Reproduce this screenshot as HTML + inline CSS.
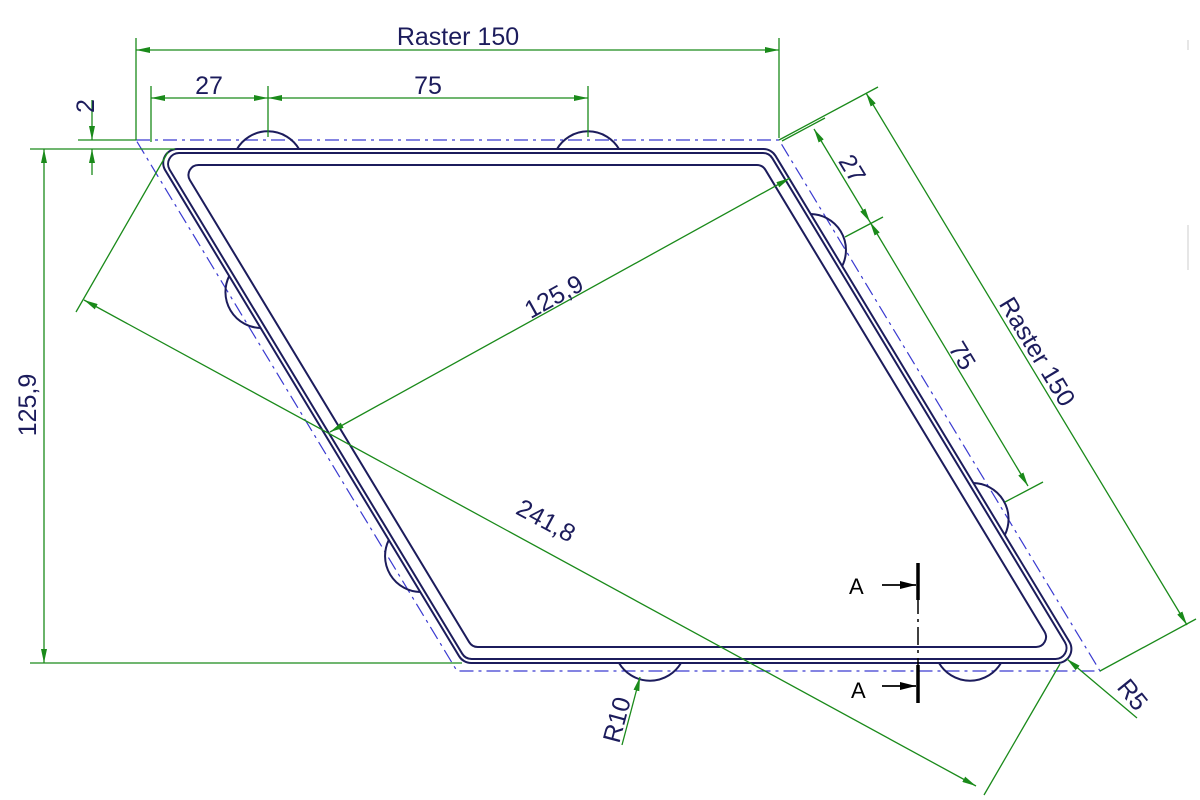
<!DOCTYPE html>
<html><head><meta charset="utf-8">
<style>
html,body{margin:0;padding:0;background:#fff;}
svg{display:block;}
text{font-family:"Liberation Sans",sans-serif;fill:#1c1c5c;font-size:25px;}
</style></head>
<body>
<svg id="s" width="1200" height="800" viewBox="0 0 1200 800" xmlns="http://www.w3.org/2000/svg">
<defs>
<marker id="a" viewBox="0 0 14 6" refX="14" refY="3" markerWidth="14" markerHeight="6" markerUnits="userSpaceOnUse" orient="auto-start-reverse">
<path d="M0,0 L14,3 L0,6 z" fill="#1a8a1a"/></marker>
<marker id="b" viewBox="0 0 16 8" refX="16" refY="4" markerWidth="16" markerHeight="8" markerUnits="userSpaceOnUse" orient="auto">
<path d="M0,0 L16,4 L0,8 z" fill="#000"/></marker>
</defs>
<g id="dash" fill="none" stroke="#3a3ad0" stroke-width="1.2" stroke-dasharray="14,5,3,5">
<polygon points="136,140 779,140 1100,671 457,671"/>
</g>
<g id="shape" fill="none" stroke="#1c1c5c" stroke-width="2"></g>
<g fill="none" stroke="#1a8a1a" stroke-width="1.3">
<line x1="136" y1="38" x2="136" y2="140"/>
<line x1="779" y1="38" x2="779" y2="138"/>
<line x1="136" y1="50" x2="779" y2="50" marker-start="url(#a)" marker-end="url(#a)"/>
<line x1="151" y1="86" x2="151" y2="142"/>
<line x1="268" y1="86" x2="268" y2="137"/>
<line x1="588" y1="86" x2="588" y2="137"/>
<line x1="151" y1="98" x2="268" y2="98" marker-start="url(#a)" marker-end="url(#a)"/>
<line x1="268" y1="98" x2="588" y2="98" marker-start="url(#a)" marker-end="url(#a)"/>
<line x1="78" y1="140" x2="136" y2="140"/>
<line x1="30" y1="149" x2="175" y2="149"/>
<line x1="92" y1="100" x2="92" y2="140" marker-end="url(#a)"/>
<line x1="92" y1="175" x2="92" y2="149" marker-end="url(#a)"/>
<line x1="30" y1="663" x2="462" y2="663"/>
<line x1="44" y1="149" x2="44" y2="663" marker-start="url(#a)" marker-end="url(#a)"/>
<line x1="330" y1="432" x2="790" y2="178" marker-start="url(#a)" marker-end="url(#a)"/>
<line x1="76" y1="312" x2="168" y2="152"/>
<line x1="84" y1="300" x2="976" y2="786" marker-start="url(#a)" marker-end="url(#a)"/>
<line x1="1060" y1="664" x2="984" y2="795"/>
<line x1="779" y1="140" x2="878" y2="87"/>
<line x1="1100" y1="671" x2="1196" y2="619"/>
<line x1="866" y1="93" x2="1187" y2="625" marker-start="url(#a)" marker-end="url(#a)"/>
<line x1="782" y1="141" x2="825" y2="118"/>
<line x1="845" y1="237" x2="883" y2="217"/>
<line x1="1005" y1="502" x2="1043" y2="482"/>
<line x1="814" y1="129" x2="870" y2="222" marker-start="url(#a)" marker-end="url(#a)"/>
<line x1="870" y1="222" x2="1028" y2="486" marker-start="url(#a)" marker-end="url(#a)"/>
<line x1="622" y1="745" x2="640" y2="677" marker-end="url(#a)"/>
<line x1="1137" y1="718" x2="1067" y2="659" marker-end="url(#a)"/>
</g>
<g stroke="#000" fill="none">
<line x1="918" y1="565" x2="918" y2="700" stroke-width="1.5" stroke-dasharray="18,5,3,5"/>
<line x1="918" y1="563" x2="918" y2="600" stroke-width="3.5"/>
<line x1="918" y1="665" x2="918" y2="703" stroke-width="3.5"/>
<line x1="882" y1="585" x2="916" y2="585" stroke-width="1.8" marker-end="url(#b)"/>
<line x1="882" y1="686" x2="916" y2="686" stroke-width="1.8" marker-end="url(#b)"/>
</g>
<text x="849" y="594" style="fill:#000;font-size:22px">A</text>
<text x="851" y="698" style="fill:#000;font-size:22px">A</text>
<text x="458" y="45" text-anchor="middle">Raster 150</text>
<text x="209" y="94" text-anchor="middle">27</text>
<text x="428" y="94" text-anchor="middle">75</text>
<text transform="translate(94,106) rotate(-90)" text-anchor="middle">2</text>
<text transform="translate(36,405) rotate(-90)" text-anchor="middle">125,9</text>
<text transform="translate(558,304) rotate(-29)" text-anchor="middle">125,9</text>
<text transform="translate(542,528) rotate(28.5)" text-anchor="middle">241,8</text>
<text transform="translate(1030,356) rotate(58.8)" text-anchor="middle">Raster 150</text>
<text transform="translate(845,173) rotate(58.8)" text-anchor="middle">27</text>
<text transform="translate(955,360) rotate(58.8)" text-anchor="middle">75</text>
<text transform="translate(625,722) rotate(-75)" text-anchor="middle">R10</text>
<text transform="translate(1126,700) rotate(51)" text-anchor="middle">R5</text>
<line x1="1188" y1="40" x2="1188" y2="50" stroke="#ccc"/>
<line x1="1188" y1="225" x2="1188" y2="270" stroke="#ccc"/>
</svg>
<script>
(function(){
var g=document.getElementById('shape');
var NS='http://www.w3.org/2000/svg';
var k=0.6045;
var hf=1.168;
function poly(d,r){
  var top=149+d, bot=663-d;
  var l0=147+d*hf, r0=766-d*hf;
  var P=[[l0+k*(top-140),top],[r0+k*(top-140),top],[r0+k*(bot-140),bot],[l0+k*(bot-140),bot]];
  var s='';
  for(var i=0;i<4;i++){
    var p=P[i],a=P[(i+3)%4],b=P[(i+1)%4];
    var ang=(i==0||i==2)?59:121;
    var t=r/Math.tan(ang*Math.PI/360);
    function mv(q){var dx=q[0]-p[0],dy=q[1]-p[1],L=Math.hypot(dx,dy);return [p[0]+dx/L*t,p[1]+dy/L*t];}
    var p1=mv(a),p2=mv(b);
    s+=(i==0?'M':'L')+p1[0].toFixed(1)+','+p1[1].toFixed(1)+' A'+r+','+r+' 0 0 1 '+p2[0].toFixed(1)+','+p2[1].toFixed(1)+' ';
  }
  return s+'Z';
}
[[0,14],[4,11],[16,10]].forEach(function(c){
  var p=document.createElementNS(NS,'path');p.setAttribute('d',poly(c[0],c[1]));g.appendChild(p);
});
function bump(x1,y1,x2,y2){
  var p=document.createElementNS(NS,'path');
  p.setAttribute('d','M'+x1.toFixed(1)+','+y1+' A36,36 0 0 1 '+x2.toFixed(1)+','+y2);
  g.appendChild(p);
}
bump(237,149,299,149); bump(557,149,619,149);
bump(681,663,619,663); bump(1001,663,939,663);
function L(y){return 147+k*(y-140);} function R(y){return 766+k*(y-140);}
bump(L(328),328,L(276),276); bump(L(592),592,L(540),540);
bump(R(214),214,R(266),266); bump(R(483),483,R(535),535);
})();
</script>
</body></html>
